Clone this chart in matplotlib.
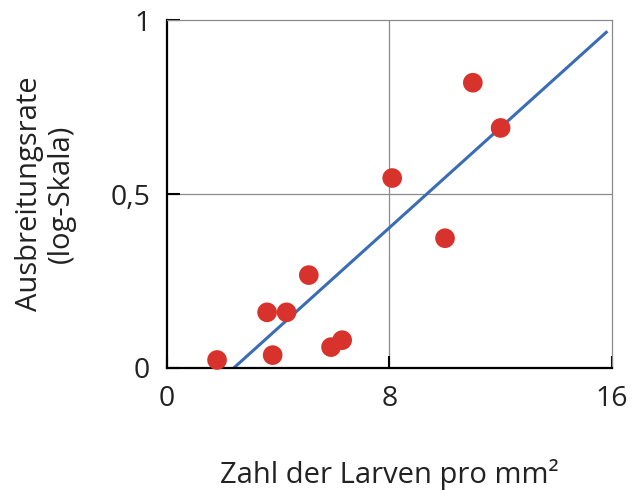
import numpy as np
import matplotlib
matplotlib.use("Agg")
import matplotlib.pyplot as plt

plt.rcParams['font.family'] = ['Open Sans', 'DejaVu Sans']

# Messpunkte: Larvendichte vs. Ausbreitungsrate
larven = [1.8, 3.6, 4.3, 3.8, 5.1, 5.9, 6.3, 8.1, 10.0, 11.0, 12.0]
rate = [0.023, 0.16, 0.16, 0.037, 0.267, 0.06, 0.08, 0.546, 0.373, 0.82, 0.69]

# Regressionsgerade (Endpunkte)
fit_x = [2.4, 15.8]
fit_y = [0.0, 0.965]

xticks = [0, 8, 16]
yticks = [0, 0.5, 1]
yticklabels = ['0', '0,5', '1']

fig = plt.figure(figsize=(6.36, 4.90), dpi=100)
ax = fig.add_axes([0.2626, 0.249, 0.6994, 0.71])

ax.axvline(8, color='#8a8a8a', lw=0.9, zorder=1)
ax.axhline(0.5, color='#8a8a8a', lw=0.9, zorder=1)

ax.plot(fit_x, fit_y, color='#3b6db4', lw=2.2, zorder=2)
ax.scatter(larven, rate, s=200, color='#d8322c', edgecolors='none', zorder=3, clip_on=False)

ax.set_xlim(0, 16)
ax.set_ylim(0, 1)
ax.set_xticks(xticks)
ax.set_xticklabels([str(t) for t in xticks])
ax.set_yticks(yticks)
ax.set_yticklabels(yticklabels)
ax.tick_params(direction='in', length=9, width=1.5, labelsize=20.5, colors='black')
ax.tick_params(axis='x', pad=12)
ax.tick_params(axis='y', pad=12)
for lab in ax.get_xticklabels() + ax.get_yticklabels():
    lab.set_color('#222222')

for side in ['left', 'bottom']:
    ax.spines[side].set_linewidth(1.6)
    ax.spines[side].set_color('black')
for side in ['top', 'right']:
    ax.spines[side].set_linewidth(0.9)
    ax.spines[side].set_color('#8a8a8a')

ax.set_xlabel('Zahl der Larven pro mm²', fontsize=21, color='#222222', va='center')
ax.xaxis.set_label_coords(0.5, -0.305)
ax.set_ylabel('Ausbreitungsrate\n(log-Skala)', fontsize=21, color='#222222',
              va='center', linespacing=1.12)
ax.yaxis.set_label_coords(-0.273, 0.5)

fig.savefig('out.png', dpi=100)
